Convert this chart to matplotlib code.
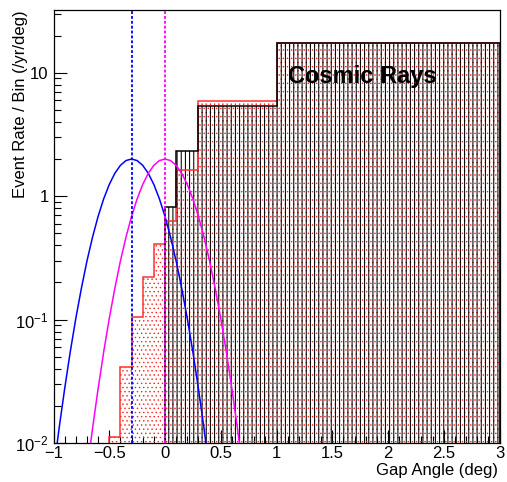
import matplotlib
matplotlib.use("Agg")
import matplotlib.pyplot as plt
from matplotlib.ticker import FixedLocator, MultipleLocator, LogLocator, NullFormatter

plt.rcParams['font.family'] = ['Liberation Sans', 'DejaVu Sans']
plt.rcParams['mathtext.fontset'] = 'custom'
plt.rcParams['mathtext.rm'] = 'Liberation Sans'
plt.rcParams['mathtext.it'] = 'Liberation Sans:italic'
plt.rcParams['mathtext.bf'] = 'Liberation Sans:bold'
plt.rcParams['hatch.linewidth'] = 0.75

# ---------------- data ----------------
# red histogram (dotted fill)
red_edges = [-0.5, -0.4, -0.3, -0.2, -0.1, 0.0, 0.1, 0.3, 1.0, 3.0]
red_values = [0.0112, 0.0416, 0.104, 0.223, 0.411, 0.623, 1.62, 5.90, 17.4]

# black histogram (cosmic rays, vertical-line fill)
cosmic_edges = [0.0, 0.1, 0.3, 1.0, 3.0]
cosmic_values = [0.816, 2.33, 5.41, 17.5]

# blue curve
blue_x = [-1.00, -0.95, -0.90, -0.85, -0.80, -0.75, -0.70, -0.65, -0.60, -0.55,
          -0.50, -0.45, -0.40, -0.35, -0.30, -0.25, -0.20, -0.15, -0.10, -0.05,
          0.00, 0.05, 0.10, 0.15, 0.20, 0.25, 0.30, 0.35, 0.40]
blue_y = [0.00586, 0.0131, 0.0275, 0.0546, 0.102, 0.179, 0.298, 0.465, 0.685, 0.950,
          1.242, 1.530, 1.776, 1.941, 2.000, 1.941, 1.776, 1.530, 1.242, 0.950,
          0.685, 0.465, 0.298, 0.179, 0.102, 0.0546, 0.0275, 0.0131, 0.00586]

# magenta curve
mag_x = [-0.70, -0.65, -0.60, -0.55, -0.50, -0.45, -0.40, -0.35, -0.30, -0.25,
         -0.20, -0.15, -0.10, -0.05, 0.00, 0.05, 0.10, 0.15, 0.20, 0.25,
         0.30, 0.35, 0.40, 0.45, 0.50, 0.55, 0.60, 0.65, 0.70]
mag_y = [0.00586, 0.0131, 0.0275, 0.0546, 0.102, 0.179, 0.298, 0.465, 0.685, 0.950,
         1.242, 1.530, 1.776, 1.941, 2.000, 1.941, 1.776, 1.530, 1.242, 0.950,
         0.685, 0.465, 0.298, 0.179, 0.102, 0.0546, 0.0275, 0.0131, 0.00586]

blue_line_x = -0.3
mag_line_x = 0.0

xticks = [-1, -0.5, 0, 0.5, 1, 1.5, 2, 2.5, 3]
xticklabels = ['\u22121', '\u22120.5', '0', '0.5', '1', '1.5', '2', '2.5', '3']
yticks = [0.01, 0.1, 1, 10]
yticklabels = [r'$\mathregular{10^{-2}}$', r'$\mathregular{10^{-1}}$', '1', '10']

# ---------------- figure ----------------
W, H = 507, 482
fig = plt.figure(figsize=(W / 100, H / 100), dpi=100)
ax = fig.add_axes([53.5 / W, 1 - 443 / H, (499.5 - 53.5) / W, (443 - 10) / H])
ax.set_yscale('log')
ax.set_xlim(-1, 3)
ax.set_ylim(0.01, 32.2)

base = 1e-4
# red histogram: dotted fill + outline
plt.rcParams['hatch.linewidth'] = 0.5
red_fill = ax.stairs(red_values, red_edges, baseline=base, fill=True, facecolor='none',
                     edgecolor='#ff2020', hatch='....', linewidth=0, zorder=2)
if hasattr(red_fill, 'set_hatch_linewidth'):
    red_fill.set_hatch_linewidth(0.5)
ax.stairs(red_values, red_edges, baseline=base, fill=False, color='#ff3030',
          linewidth=1.1, zorder=3)
# cosmic histogram: vertical line fill + outline
plt.rcParams['hatch.linewidth'] = 0.75
cos_fill = ax.stairs(cosmic_values, cosmic_edges, baseline=base, fill=True, facecolor='none',
                     edgecolor='black', hatch='||||', linewidth=0, zorder=2.5)
if hasattr(cos_fill, 'set_hatch_linewidth'):
    cos_fill.set_hatch_linewidth(0.75)
ax.stairs(cosmic_values, cosmic_edges, baseline=base, fill=False, color='black',
          linewidth=1.1, zorder=3.5)

# curves
ax.plot(blue_x, blue_y, color='#0000ff', lw=1.1, zorder=5)
ax.plot(mag_x, mag_y, color='#ff00ff', lw=1.1, zorder=5)

# dotted vertical lines
ax.axvline(blue_line_x, color='#0000ff', lw=1.3, ls=(0, (1.6, 1.1)), zorder=6)
ax.axvline(mag_line_x, color='#ff00ff', lw=1.3, ls=(0, (1.6, 1.1)), zorder=6)

ax.text((288.3 - 53.5) / (499.5 - 53.5), (443 - 83.3) / (443 - 10), 'Cosmic Rays',
        transform=ax.transAxes, fontsize=17, fontweight='bold', ha='left',
        va='baseline', zorder=7)

# ticks
ax.xaxis.set_major_locator(FixedLocator(xticks))
ax.set_xticklabels(xticklabels)
ax.xaxis.set_minor_locator(MultipleLocator(0.1))
ax.yaxis.set_major_locator(FixedLocator(yticks))
ax.set_yticklabels(yticklabels)
ax.yaxis.set_minor_locator(LogLocator(base=10, subs=[2, 3, 4, 5, 6, 7, 8, 9], numticks=20))
ax.yaxis.set_minor_formatter(NullFormatter())
ax.tick_params(which='both', direction='in', top=False, right=False, width=0.8,
               labelsize=12)
ax.tick_params(which='major', length=9.2)
ax.tick_params(axis='x', which='major', pad=2.5)
ax.tick_params(axis='y', which='major', pad=3.5)
ax.tick_params(which='minor', length=4.8)
for s in ax.spines.values():
    s.set_linewidth(0.9)

fig.text(498 / W, 1 - 470 / H, 'Gap Angle (deg)', ha='right', va='center', fontsize=12)
fig.text(21 / W, 1 - 10 / H, 'Event Rate / Bin (/yr/deg)', ha='center', va='top',
         rotation=90, fontsize=12)

fig.savefig('out.png', dpi=100, facecolor='white')
